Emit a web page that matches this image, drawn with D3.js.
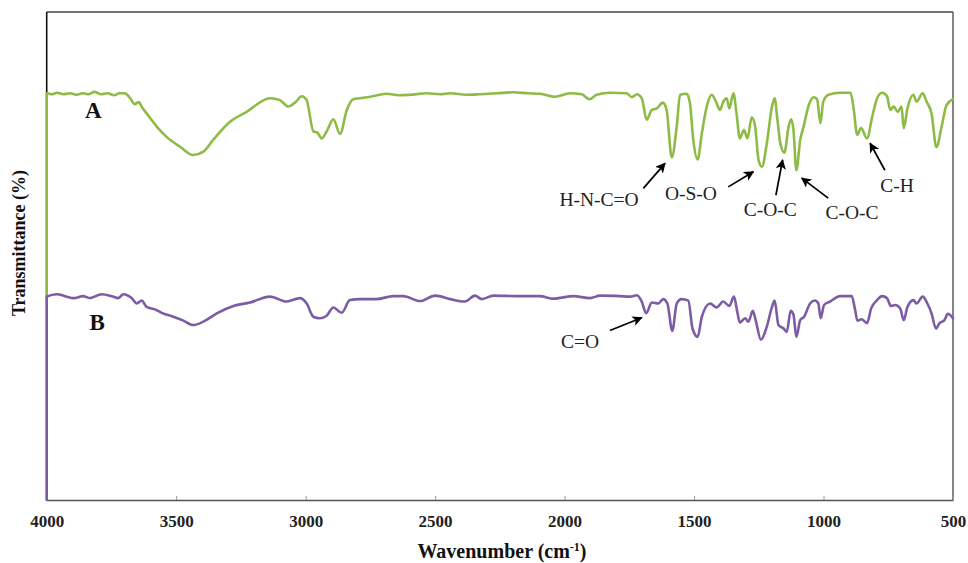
<!DOCTYPE html>
<html>
<head>
<meta charset="utf-8">
<title>FTIR spectra</title>
<script src="https://cdn.jsdelivr.net/npm/d3@7/dist/d3.min.js"></script>
<style>
  html, body { margin: 0; padding: 0; background: #fff; }
  svg { display: block; }
</style>
</head>
<body>
<svg id="chart" width="968" height="563"></svg>
<script>
// Wavenumber axis ticks (cm-1)
const xTicks = [4000, 3500, 3000, 2500, 2000, 1500, 1000, 500];

// Spectrum A: [wavenumber, transmittance %]
const spectrumA = [
  [4000, 83.0], [3980, 82.8], [3960, 83.1], [3935, 82.8], [3910, 83.0], [3885, 82.7],
  [3860, 83.0], [3840, 82.8], [3815, 83.3], [3790, 82.8], [3765, 83.0], [3740, 82.6],
  [3720, 83.0], [3698, 83.0], [3678, 82.0], [3660, 80.8], [3645, 81.2], [3630, 80.0],
  [3614, 78.9], [3575, 76.2], [3537, 74.1], [3485, 72.1], [3434, 70.4], [3395, 71.1],
  [3357, 73.5], [3292, 77.2], [3228, 79.2], [3138, 82.0], [3099, 81.6], [3067, 80.3],
  [3041, 81.1], [3015, 82.4], [2996, 81.6], [2970, 75.2], [2955, 75.0], [2938, 73.8],
  [2919, 75.2], [2893, 77.7], [2867, 74.7], [2841, 79.6], [2816, 81.8], [2790, 82.0],
  [2751, 82.3], [2687, 82.9], [2640, 82.6], [2597, 82.7], [2532, 83.0], [2480, 82.8],
  [2442, 83.0], [2380, 82.7], [2327, 82.8], [2260, 83.0], [2198, 83.2], [2140, 83.0],
  [2095, 82.9], [2037, 82.3], [1979, 83.0], [1934, 82.8], [1904, 81.8], [1876, 82.7],
  [1824, 83.1], [1760, 83.0], [1740, 82.2], [1721, 82.8], [1702, 82.0], [1683, 77.6],
  [1663, 79.6], [1644, 79.9], [1621, 81.1], [1606, 79.6], [1586, 69.9], [1567, 76.2],
  [1554, 82.7], [1528, 82.9], [1516, 81.0], [1503, 73.5], [1486, 69.5], [1470, 74.8],
  [1451, 80.3], [1432, 82.7], [1413, 81.0], [1400, 79.6], [1387, 81.3], [1374, 82.0],
  [1364, 79.9], [1348, 83.0], [1336, 78.9], [1323, 73.8], [1307, 75.5], [1294, 73.8],
  [1277, 78.1], [1264, 76.2], [1251, 69.4], [1238, 68.0], [1219, 72.8], [1199, 80.3],
  [1189, 82.0], [1178, 77.6], [1167, 72.8], [1151, 70.9], [1135, 76.2], [1125, 77.7],
  [1116, 75.5], [1105, 67.3], [1090, 73.5], [1077, 76.2], [1057, 80.6], [1038, 82.2],
  [1025, 81.8], [1012, 76.9], [1001, 81.3], [981, 82.7], [936, 83.1], [896, 83.1],
  [883, 79.6], [870, 74.5], [855, 75.9], [832, 73.8], [812, 78.2], [793, 82.0],
  [774, 83.1], [755, 82.4], [742, 79.6], [729, 80.3], [713, 79.2], [699, 80.3],
  [690, 75.9], [676, 79.9], [653, 82.7], [641, 81.3], [617, 83.0], [602, 81.3],
  [583, 78.9], [564, 72.0], [544, 76.2], [525, 80.6], [500, 81.8]
];

// Spectrum B: [wavenumber, transmittance %]
const spectrumB = [
  [4000, 41.5], [3961, 42.0], [3923, 41.5], [3897, 41.2], [3859, 41.6], [3833, 41.2],
  [3788, 42.0], [3749, 41.6], [3723, 41.2], [3704, 42.0], [3672, 41.2], [3652, 40.1],
  [3633, 40.7], [3614, 39.4], [3582, 38.9], [3556, 38.2], [3511, 37.4], [3472, 36.6],
  [3434, 35.7], [3395, 36.4], [3343, 38.1], [3279, 39.6], [3215, 40.3], [3138, 41.5],
  [3073, 40.5], [3022, 41.2], [2996, 40.1], [2970, 37.4], [2945, 37.1], [2919, 37.6],
  [2893, 39.3], [2861, 38.2], [2829, 40.8], [2790, 41.0], [2727, 41.0], [2661, 41.6],
  [2623, 41.6], [2558, 40.6], [2500, 41.7], [2442, 41.0], [2385, 40.5], [2346, 41.7],
  [2320, 41.0], [2275, 41.7], [2185, 41.6], [2095, 41.6], [2044, 41.1], [1966, 41.6],
  [1902, 41.2], [1863, 41.7], [1786, 41.6], [1747, 41.5], [1721, 41.8], [1702, 40.5],
  [1685, 38.1], [1663, 40.3], [1638, 40.1], [1619, 41.0], [1603, 40.1], [1584, 34.5],
  [1567, 40.1], [1548, 41.0], [1522, 40.7], [1506, 35.0], [1486, 33.3], [1470, 37.4],
  [1438, 40.1], [1413, 39.3], [1387, 40.5], [1364, 39.6], [1346, 41.5], [1333, 38.4],
  [1323, 36.2], [1303, 37.1], [1290, 36.4], [1273, 38.6], [1262, 36.7], [1242, 32.7],
  [1219, 35.4], [1199, 39.4], [1189, 40.7], [1174, 35.7], [1154, 35.0], [1142, 34.3],
  [1127, 38.6], [1116, 37.8], [1105, 33.3], [1090, 36.7], [1075, 37.4], [1052, 40.1],
  [1033, 40.7], [1020, 40.1], [1011, 37.1], [998, 39.8], [975, 40.5], [936, 41.6],
  [891, 41.6], [878, 38.8], [869, 36.6], [853, 36.9], [832, 36.1], [816, 39.1],
  [793, 40.8], [774, 41.6], [755, 41.2], [740, 39.6], [723, 39.8], [704, 39.1],
  [690, 36.7], [676, 39.4], [653, 40.8], [641, 40.1], [617, 41.5], [599, 40.1],
  [583, 38.1], [566, 35.0], [552, 36.1], [533, 36.7], [520, 38.0], [500, 37.1]
];

const seriesNames = ["A", "B"];
// Where each trace's label sits: [wavenumber, transmittance]
const seriesLabelAt = [[3852, 77.9], [3835, 34.7]];

// Band assignments: label position and arrow tail -> head, in data units
const bandLabels = ["H-N-C=O", "O-S-O", "C-O-C", "C-O-C", "C-H", "C=O"];
const bandTextAt = [[1867, 60.1], [1512, 61.3], [1206, 58.0], [890, 57.3], [716, 62.9], [1940, 31.0]];
const bandArrowFrom = [[1696, 63.6], [1368, 63.9], [1184, 62.2], [982, 61.6], [763, 67.3], [1825, 34.6]];
const bandArrowTo = [[1612, 68.7], [1271, 67.0], [1158, 69.4], [1084, 65.7], [820, 72.8], [1702, 37.2]];

const svg = d3.select("#chart");
const plotLeft = 46.7, plotRight = 953, plotTop = 12, plotBottom = 500;

const x = d3.scaleLinear().domain([4000, 500]).range([plotLeft, plotRight]);
const y = d3.scaleLinear().domain([0, 100]).range([plotBottom, 10]);

const colors = ["#8dbb45", "#7d5ca6"];
const serif = "'Liberation Serif', 'Times New Roman', serif";

// Frame
svg.append("line").attr("x1", plotLeft).attr("x2", plotRight).attr("y1", plotTop).attr("y2", plotTop)
  .attr("stroke", "#444").attr("stroke-width", 1.6);
svg.append("line").attr("x1", plotRight).attr("x2", plotRight).attr("y1", plotTop).attr("y2", plotBottom)
  .attr("stroke", "#666").attr("stroke-width", 1.6);
svg.append("line").attr("x1", plotLeft).attr("x2", plotLeft).attr("y1", plotTop).attr("y2", plotBottom)
  .attr("stroke", "#111").attr("stroke-width", 1.6);

// Bottom axis with inward ticks
const xAxis = d3.axisBottom(x).tickValues(xTicks).tickFormat(d3.format("d"))
  .tickSize(-4).tickPadding(15).tickSizeOuter(0);
const gx = svg.append("g").attr("transform", `translate(0,${plotBottom})`).call(xAxis);
gx.select(".domain").attr("stroke", "#555").attr("stroke-width", 1.6);
gx.selectAll(".tick line").attr("stroke", "#999").attr("stroke-width", 1);
gx.selectAll(".tick text")
  .attr("font-family", serif)
  .attr("font-weight", "bold").attr("font-size", 17).attr("fill", "#222");

// Traces: each starts with a drop along the left edge to the trace below it
const spectra = [spectrumA, spectrumB];
const dropTo = [spectrumB[0][1], 0];
const line = d3.line().x(d => x(d[0])).y(d => y(d[1])).curve(d3.curveMonotoneX);

spectra.forEach((s, i) => {
  const pts = [[s[0][0], dropTo[i]]].concat(s);
  svg.append("path").datum(pts)
    .attr("d", line)
    .attr("fill", "none")
    .attr("stroke", colors[i])
    .attr("stroke-width", 2.6)
    .attr("stroke-linejoin", "round")
    .attr("stroke-linecap", "round");
});

// Trace labels
seriesNames.forEach((name, i) => {
  svg.append("text")
    .attr("x", x(seriesLabelAt[i][0])).attr("y", y(seriesLabelAt[i][1]))
    .attr("font-family", serif)
    .attr("font-weight", "bold").attr("font-size", 23).attr("fill", "#111")
    .text(name);
});

// Arrowhead marker
svg.append("defs").append("marker")
  .attr("id", "arrowhead").attr("viewBox", "0 0 10 10")
  .attr("refX", 9).attr("refY", 5)
  .attr("markerWidth", 6).attr("markerHeight", 6)
  .attr("markerUnits", "strokeWidth")
  .attr("orient", "auto")
  .append("path").attr("d", "M0,0 L10,5 L0,10 L2.5,5 Z").attr("fill", "#000");

bandLabels.forEach((label, i) => {
  svg.append("line")
    .attr("x1", x(bandArrowFrom[i][0])).attr("y1", y(bandArrowFrom[i][1]))
    .attr("x2", x(bandArrowTo[i][0])).attr("y2", y(bandArrowTo[i][1]))
    .attr("stroke", "#000").attr("stroke-width", 1.7)
    .attr("marker-end", "url(#arrowhead)");
  svg.append("text")
    .attr("x", x(bandTextAt[i][0])).attr("y", y(bandTextAt[i][1]))
    .attr("text-anchor", "middle")
    .attr("font-family", serif)
    .attr("font-size", 19.5).attr("fill", "#222")
    .text(label);
});

// Axis titles
const xTitle = svg.append("text")
  .attr("x", 502).attr("y", 558)
  .attr("text-anchor", "middle")
  .attr("font-family", serif)
  .attr("font-weight", "bold").attr("font-size", 20).attr("fill", "#111");
xTitle.append("tspan").text("Wavenumber (cm");
xTitle.append("tspan").attr("baseline-shift", "super").attr("font-size", 12).text("-1");
xTitle.append("tspan").text(")");

svg.append("text")
  .attr("transform", "translate(25,243) rotate(-90)")
  .attr("text-anchor", "middle")
  .attr("font-family", serif)
  .attr("font-weight", "bold").attr("font-size", 18).attr("fill", "#111")
  .text("Transmittance (%)");
</script>
</body>
</html>
